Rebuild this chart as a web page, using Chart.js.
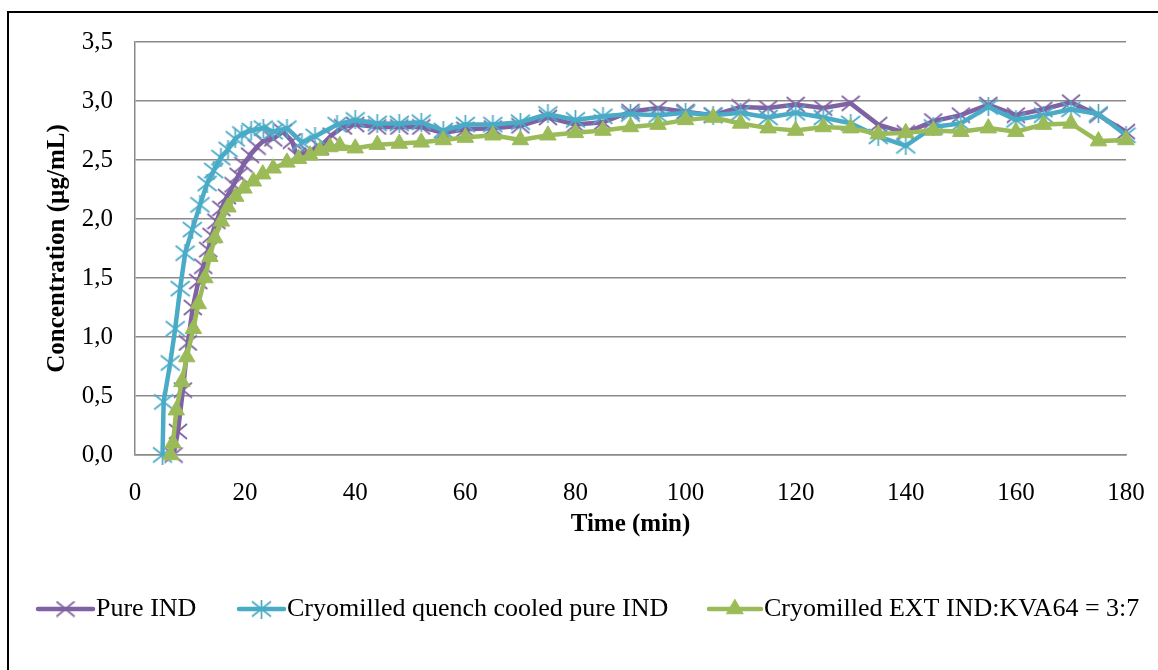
<!DOCTYPE html>
<html>
<head>
<meta charset="utf-8">
<script src="https://cdn.jsdelivr.net/npm/chart.js@4.4.0/dist/chart.umd.min.js"></script>
<style>
    html, body { margin: 0; padding: 0; background: #fff; }
    body { width: 1158px; height: 670px; overflow: hidden; position: relative; }
    #frame { position: absolute; left: 7px; top: 11px; width: 1200px; height: 700px; border: 2px solid #000; }
    #chart { position: absolute; left: 0; top: 0; }
</style>
</head>
<body>
<div id="frame"></div>
<canvas id="chart" width="1158" height="670"></canvas>
<script>
// Pure IND
const pureTime = [7, 7.8, 8.7, 9.6, 10.5, 11.5, 12.4, 13.3, 13.9, 14.8, 15.7, 16.7, 17.9, 18.8, 19.7, 20.9, 22.1, 23.3, 25.1, 26.9,
    28.5, 29.4, 31.5, 33.6, 35.7, 37.8, 40, 44, 48, 52, 56, 60, 65, 70, 75, 80, 85, 90, 95, 100,
    105, 110, 115, 120, 125, 130, 135, 140, 145, 150, 155, 160, 165, 170, 175, 180];
const pureConc = [0, 0.2, 0.55, 0.95, 1.25, 1.47, 1.6, 1.74, 1.86, 1.98, 2.09, 2.19, 2.29, 2.37, 2.46, 2.54, 2.61, 2.66, 2.68, 2.74,
    2.66, 2.54, 2.57, 2.61, 2.71, 2.78, 2.8, 2.78, 2.78, 2.78, 2.73, 2.76, 2.77, 2.79, 2.86, 2.8, 2.82, 2.91, 2.94, 2.91,
    2.88, 2.95, 2.94, 2.97, 2.94, 2.98, 2.8, 2.73, 2.83, 2.88, 2.97, 2.88, 2.93, 2.99, 2.88, 2.74];

// Cryomilled quench cooled pure IND
const quenchTime = [5, 5.2, 6.4, 7.3, 8.2, 9.1, 10.4, 11.8, 13.1, 14.3, 15.6, 16.9, 18.2, 19.4, 21.1, 23.3, 25.1, 27.6, 30.3, 32.7,
    36.7, 40, 44, 48, 52, 56, 60, 65, 70, 75, 80, 85, 90, 95, 100, 105, 110, 115, 120, 125,
    130, 135, 140, 145, 150, 155, 160, 165, 170, 175, 180];
const quenchConc = [0, 0.45, 0.78, 1.07, 1.41, 1.71, 1.91, 2.12, 2.3, 2.41, 2.52, 2.59, 2.68, 2.72, 2.75, 2.77, 2.74, 2.77, 2.65, 2.7,
    2.8, 2.84, 2.81, 2.81, 2.82, 2.75, 2.8, 2.8, 2.82, 2.89, 2.84, 2.87, 2.89, 2.88, 2.9, 2.88, 2.9, 2.86, 2.9, 2.86,
    2.81, 2.7, 2.62, 2.78, 2.81, 2.95, 2.84, 2.88, 2.93, 2.89, 2.71];

// Cryomilled EXT IND:KVA64 = 3:7
const extTime = [6.5, 6.9, 7.5, 8.5, 9.4, 10.6, 11.5, 12.7, 13.6, 14.5, 15.7, 16.9, 18.3, 19.8, 21.5, 23.2, 25.1, 27.6, 29.7, 31.8,
    33.6, 35.4, 37.2, 40, 44, 48, 52, 56, 60, 65, 70, 75, 80, 85, 90, 95, 100, 105, 110, 115,
    120, 125, 130, 135, 140, 145, 150, 155, 160, 165, 170, 175, 180];
const extConc = [0, 0.1, 0.38, 0.62, 0.83, 1.07, 1.28, 1.5, 1.68, 1.84, 1.98, 2.1, 2.19, 2.26, 2.32, 2.38, 2.43, 2.48, 2.51, 2.54,
    2.58, 2.61, 2.62, 2.6, 2.63, 2.64, 2.65, 2.67, 2.69, 2.71, 2.67, 2.71, 2.73, 2.75, 2.78, 2.8, 2.84, 2.86, 2.81, 2.77,
    2.75, 2.78, 2.77, 2.72, 2.73, 2.75, 2.74, 2.77, 2.74, 2.8, 2.81, 2.66, 2.67];

const seriesNames = ['Pure IND', 'Cryomilled quench cooled pure IND', 'Cryomilled EXT IND:KVA64 = 3:7'];
const yTickLabels = ['0,0', '0,5', '1,0', '1,5', '2,0', '2,5', '3,0', '3,5'];
const xTitle = 'Time (min)';
const yTitle = 'Concentration (\u00b5g/mL)';

const FONT = "'Liberation Serif', 'Times New Roman', serif";
const PURPLE = '#7f62a3';
const CYAN = '#4aabc6';
const GREEN = '#9bbb59';
const GRID = '#8a8a8a';

function toPoints(xs, ys) {
    return xs.map((x, i) => ({ x: x, y: ys[i] }));
}

// Excel-like X marker
function makeX(color) {
    const c = document.createElement('canvas');
    c.width = 20; c.height = 17;
    const g = c.getContext('2d');
    g.strokeStyle = color; g.lineWidth = 1.7;
    g.beginPath();
    g.moveTo(1, 1); g.lineTo(19, 16);
    g.moveTo(19, 1); g.lineTo(1, 16);
    g.stroke();
    return c;
}

// Excel-like star (asterisk) marker
function makeStar(color) {
    const c = document.createElement('canvas');
    c.width = 21; c.height = 19;
    const g = c.getContext('2d');
    g.strokeStyle = color; g.lineWidth = 1.7;
    g.beginPath();
    g.moveTo(10.5, 0); g.lineTo(10.5, 19);
    g.moveTo(1, 2); g.lineTo(20, 17);
    g.moveTo(20, 2); g.lineTo(1, 17);
    g.stroke();
    return c;
}

const xMarker = makeX(PURPLE);
const starMarker = makeStar(CYAN);

// legend drawn under the plot like the Excel one
const legendLayout = [
    { x0: 38, x1: 93, tx: 96 },
    { x0: 239, x1: 284, tx: 287 },
    { x0: 709, x1: 761, tx: 764 }
];

const bottomLegend = {
    id: 'bottomLegend',
    afterDraw(chart) {
        const ctx = chart.ctx;
        const y = 609;
        ctx.save();
        chart.data.datasets.forEach((ds, i) => {
            const L = legendLayout[i];
            ctx.strokeStyle = ds.borderColor;
            ctx.lineWidth = ds.borderWidth;
            ctx.lineCap = 'round';
            ctx.beginPath();
            ctx.moveTo(L.x0, y);
            ctx.lineTo(L.x1, y);
            ctx.stroke();
            ctx.fillStyle = ds.pointBackgroundColor;
            ctx.strokeStyle = ds.pointBorderColor;
            ctx.lineWidth = 1;
            Chart.helpers.drawPoint(ctx, {
                pointStyle: ds.pointStyle,
                radius: ds.pointRadius,
                rotation: 0,
                borderWidth: 1
            }, (L.x0 + L.x1) / 2, y);
            ctx.fillStyle = '#000';
            ctx.font = "26px " + FONT;
            ctx.textBaseline = 'middle';
            ctx.textAlign = 'left';
            ctx.fillText(seriesNames[i], L.tx, y);
        });
        ctx.restore();
    }
};

const ctx = document.getElementById('chart').getContext('2d');
const chart = new Chart(ctx, {
    type: 'scatter',
    data: {
        datasets: [
            {
                label: seriesNames[0],
                data: toPoints(pureTime, pureConc),
                showLine: true,
                borderColor: PURPLE,
                borderWidth: 4.5,
                pointStyle: xMarker,
                pointRadius: 9,
                pointBackgroundColor: PURPLE,
                pointBorderColor: PURPLE,
                order: 3,
                clip: false
            },
            {
                label: seriesNames[1],
                data: toPoints(quenchTime, quenchConc),
                showLine: true,
                borderColor: CYAN,
                borderWidth: 4.5,
                pointStyle: starMarker,
                pointRadius: 9,
                pointBackgroundColor: CYAN,
                pointBorderColor: CYAN,
                order: 2,
                clip: false
            },
            {
                label: seriesNames[2],
                data: toPoints(extTime, extConc),
                showLine: true,
                borderColor: GREEN,
                borderWidth: 4.5,
                pointStyle: 'triangle',
                pointRadius: 9.5,
                pointBackgroundColor: GREEN,
                pointBorderColor: GREEN,
                pointBorderWidth: 1,
                order: 1,
                clip: false
            }
        ]
    },
    options: {
        responsive: false,
        animation: false,
        devicePixelRatio: 1,
        layout: { padding: { left: 30, top: 42, right: 32, bottom: 125 } },
        plugins: {
            legend: { display: false },
            tooltip: { enabled: false }
        },
        scales: {
            x: {
                type: 'linear',
                min: 0,
                max: 180,
                ticks: {
                    stepSize: 20,
                    color: '#000',
                    padding: 23,
                    maxRotation: 0,
                    font: { family: FONT, size: 25 }
                },
                grid: { display: false, drawTicks: false },
                border: { color: GRID, width: 1.5 },
                title: {
                    display: true,
                    text: xTitle,
                    color: '#000',
                    font: { family: FONT, size: 25, weight: 'bold' },
                    padding: { top: 0, bottom: 5 }
                },
                afterFit(scale) {
                    scale.height = 90;
                    scale.paddingLeft = 0;
                    scale.paddingRight = 0;
                }
            },
            y: {
                min: 0,
                max: 3.5,
                ticks: {
                    stepSize: 0.5,
                    color: '#000',
                    padding: 22,
                    font: { family: FONT, size: 25 },
                    callback: (v, i) => yTickLabels[i]
                },
                grid: { color: GRID, lineWidth: 1.5, drawTicks: false },
                border: { color: GRID, width: 1.5 },
                title: {
                    display: true,
                    text: yTitle,
                    color: '#000',
                    font: { family: FONT, size: 25, weight: 'bold' },
                    padding: { top: 13, bottom: 0 }
                },
                afterFit(scale) {
                    scale.width = 105;
                    scale.paddingTop = 0;
                    scale.paddingBottom = 0;
                }
            }
        }
    },
    plugins: [bottomLegend]
});
</script>
</body>
</html>
